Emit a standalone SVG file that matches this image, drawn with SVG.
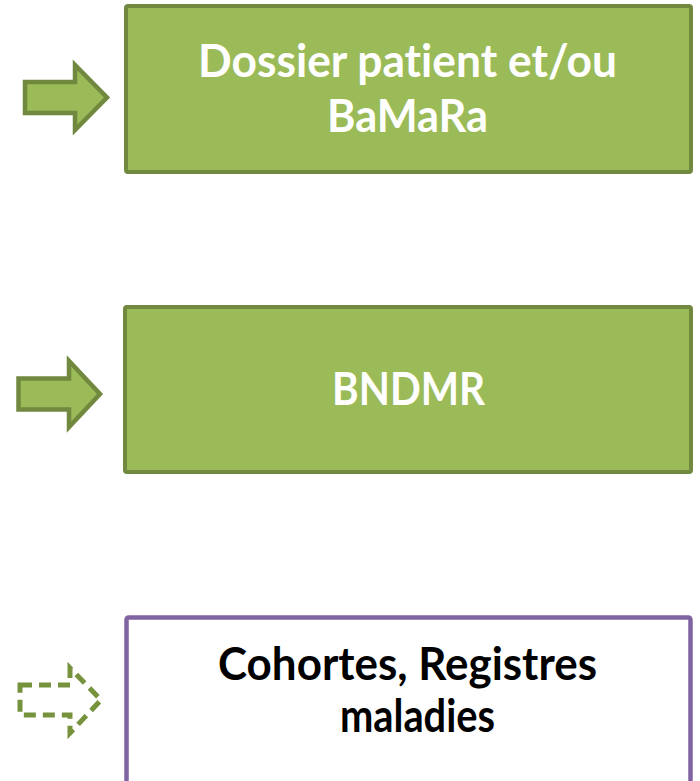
<svg xmlns="http://www.w3.org/2000/svg" width="700" height="781" viewBox="0 0 700 781">
<style>
.gbox{fill:#9BBB59;stroke:#71893F;stroke-width:4}
.pbox{fill:#FFFFFF;stroke:#8064A2;stroke-width:4.5}
.arr{fill:#9BBB59;stroke:#71893F;stroke-width:4.5;stroke-linejoin:miter}
.darr{fill:none;stroke:#76923C;stroke-width:5;stroke-dasharray:12,7}
.t{font-family:Lato,"Liberation Sans",sans-serif;font-weight:bold;font-size:46px;text-anchor:middle;font-variant-ligatures:none}
.w{fill:#FFFFFF}
.k{fill:#000000}
</style>
<g id="connectors">
<path class="arr" d="M25,82 L75,82 L75,65 L107,97.5 L75,130 L75,113 L25,113 Z"/>
<path class="arr" d="M18.5,378.5 L69,378.5 L69,361 L100,394 L69,427 L69,409.5 L18.5,409.5 Z"/>
<path class="darr" d="M20,685 L70,685 L70,668 L101,700 L70,733 L70,715 L20,715 Z"/>
</g>
<g id="node-dossier">
<rect class="gbox" x="126" y="6" width="565" height="166" rx="2"/>
<text class="t w" x="407.5" y="77" textLength="419" lengthAdjust="spacingAndGlyphs">Dossier patient et/ou</text>
<text class="t w" x="407.5" y="132" textLength="161" lengthAdjust="spacingAndGlyphs">BaMaRa</text>
</g>
<g id="node-bndmr">
<rect class="gbox" x="125" y="307" width="566" height="165" rx="2"/>
<text class="t w" x="408.5" y="405" textLength="153" lengthAdjust="spacingAndGlyphs">BNDMR</text>
</g>
<g id="node-cohortes">
<rect class="pbox" x="126.5" y="617.5" width="564" height="172" rx="2"/>
<text class="t k" x="407.5" y="680" textLength="379" lengthAdjust="spacingAndGlyphs">Cohortes, Registres</text>
<text class="t k" x="417.5" y="732" textLength="155" lengthAdjust="spacingAndGlyphs">maladies</text>
</g>
</svg>
